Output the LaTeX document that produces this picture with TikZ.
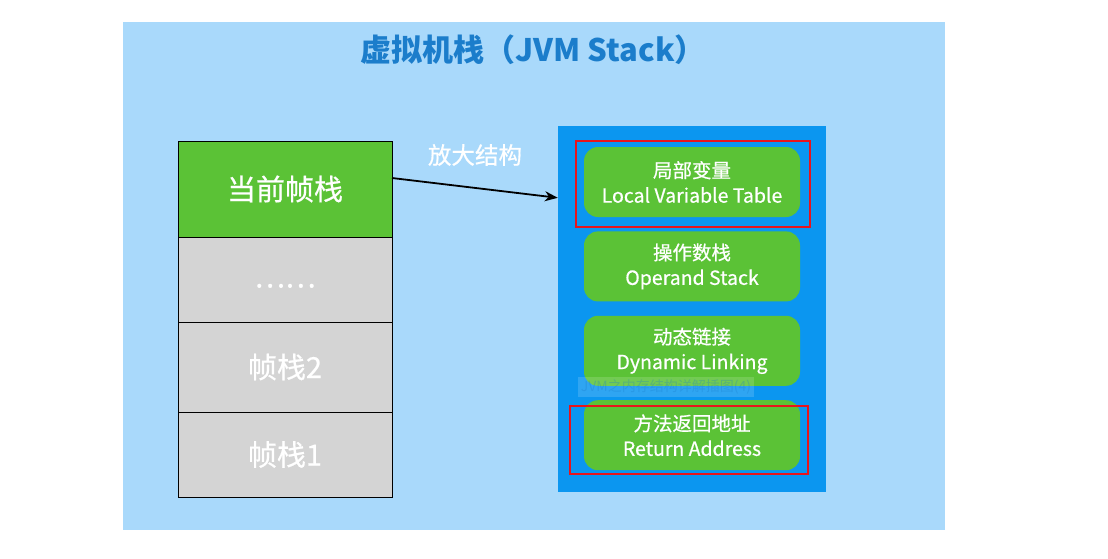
\documentclass[tikz,border=0pt]{standalone}
\usepackage{fontspec}
\setmainfont{Noto Sans CJK SC}[FakeBold=0.6]
\newfontfamily\plainfont{Noto Sans CJK SC}
\usetikzlibrary{positioning, arrows.meta}
\definecolor{skyblue}{HTML}{A9D9FB}
\definecolor{deepblue}{HTML}{0B96F0}
\definecolor{leafgreen}{HTML}{5BC236}
\definecolor{framegray}{HTML}{D4D4D4}
\definecolor{titleblue}{HTML}{1B7DCB}
\definecolor{alertred}{HTML}{E8141C}

\begin{document}
\begin{tikzpicture}[
            x=1pt, y=-1pt,
            frame/.style={rectangle, draw=black, line width=1pt, outer sep=0pt, minimum width=214pt, text=white, font=\fontsize{29}{32}\selectfont},
            slot/.style={rectangle, fill=leafgreen, rounded corners=14pt, minimum width=216pt, minimum height=70pt, text=white, align=center, font=\fontsize{19.5}{25}\selectfont},
            redbox/.style={draw=alertred, line width=2pt},
            arrow/.style={-{Stealth[length=13pt, width=10pt]}, line width=1.8pt}
        ]
            \useasboundingbox (0,0) rectangle (1108,558);
            \fill[skyblue] (123,22) rectangle (945,530);
            \node[text=titleblue, font=\fontsize{31}{35}\plainfont\bfseries] (title) at (533,50) {虚拟机栈（JVM Stack）};

            % left stack
            \node[frame, fill=leafgreen, minimum height=96pt] (current) at (285,189) {当前帧栈};
            \node[frame, fill=framegray, minimum height=85pt, below=0pt of current] (dots) {\raisebox{-8pt}[0pt][0pt]{……}};
            \node[frame, fill=framegray, minimum height=90pt, below=0pt of dots] (frame2) {帧栈2};
            \node[frame, fill=framegray, minimum height=85pt, below=0pt of frame2] (frame1) {帧栈1};

            % zoomed frame
            \node[rectangle, fill=deepblue, minimum width=268pt, minimum height=366pt] (stack) at (692,309) {};
            \node[slot] (locals) at (692,182) {局部变量\\Local Variable Table};
            \node[slot, below=14pt of locals] (operand) {操作数栈\\Operand Stack};
            \node[slot, below=14pt of operand] (linking) {动态链接\\Dynamic Linking};
            \node[slot, below=14pt of linking] (retaddr) {方法返回地址\\Return Address};
            \draw[redbox] (576,141) rectangle (810,227);
            \draw[redbox] (570,406) rectangle (808,474);

            \node[fill=white, fill opacity=0.15, text opacity=0.3, text=titleblue, font=\fontsize{14}{16}\plainfont, inner sep=3pt] (stamp) at (666,387) {JVM之内存结构详解插图(4)};

            \node[text=white, font=\fontsize{23.5}{27}\selectfont] (zoomlabel) at (475,155) {放大结构};
            \draw[arrow] ([yshift=11pt]current.east) -- ([yshift=-72pt]stack.north west);
        \end{tikzpicture}
\end{document}
